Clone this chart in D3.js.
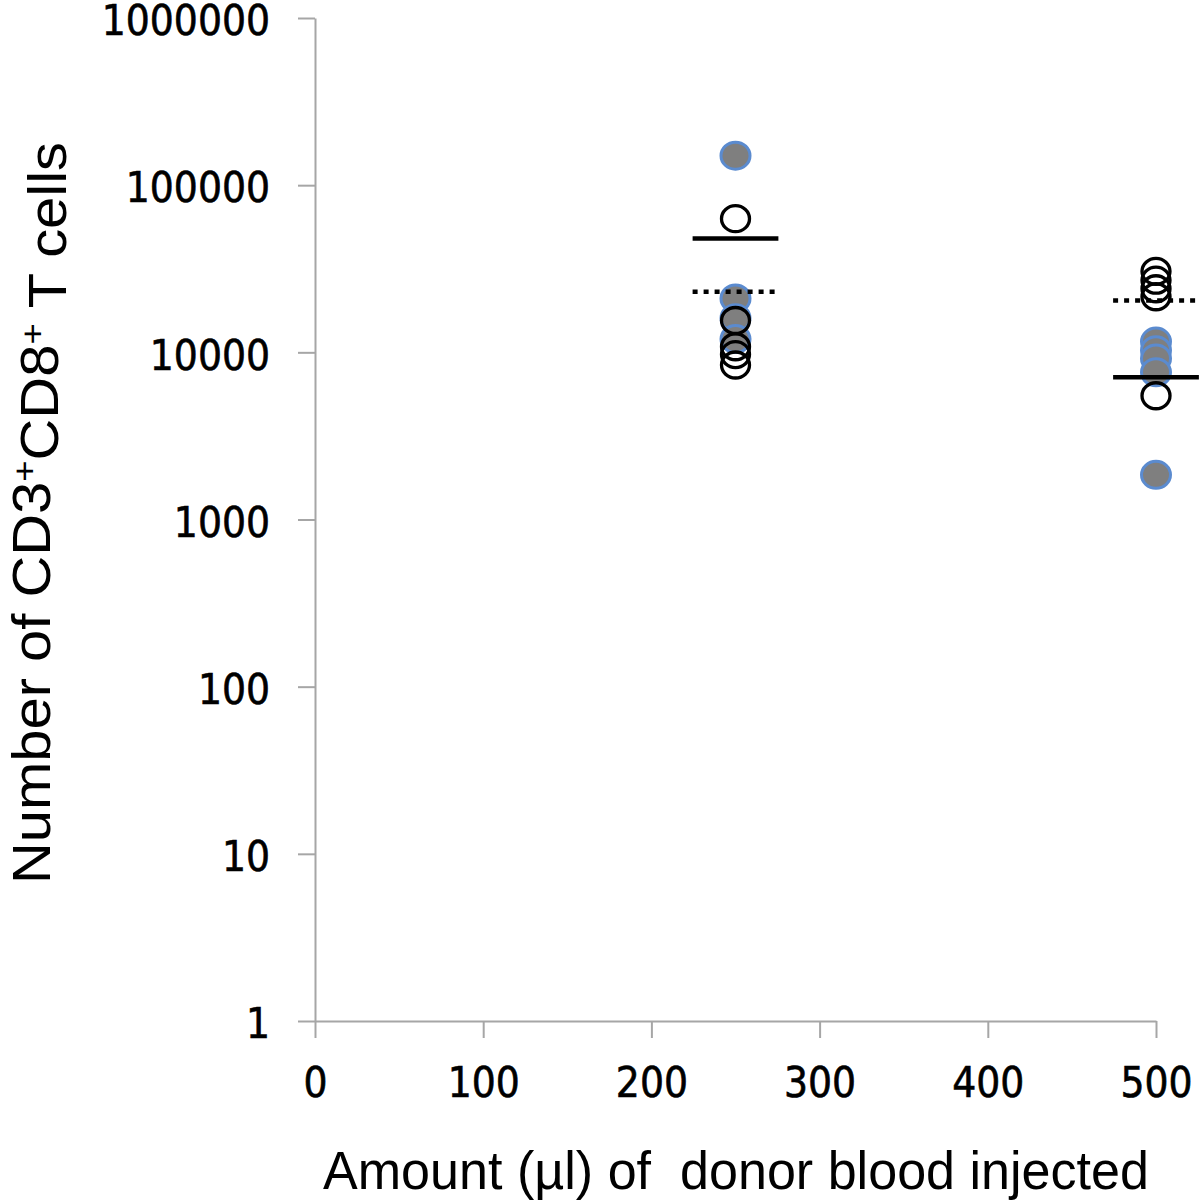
<!DOCTYPE html>
<html><head><meta charset="utf-8">
<script src="https://cdn.jsdelivr.net/npm/d3@7"></script>
<style>
html,body{margin:0;padding:0;background:#fff;}
svg{display:block;}
</style></head>
<body>
<svg id="chart" width="1200" height="1204"></svg>
<script>
// ---- data ----
const xTicks = [0, 100, 200, 300, 400, 500];
const yTicks = [1, 10, 100, 1000, 10000, 100000, 1000000];
const filledX = [250, 250, 250, 250, 500, 500, 500, 500, 500];
const filledY = [150000, 21000, 16000, 12000, 11600, 10300, 9200, 7600, 1850];
const openX = [250, 250, 250, 250, 250, 500, 500, 500, 500, 500];
const openY = [63000, 15500, 10800, 9700, 8400, 30500, 27000, 24000, 21500, 5500];
const meanX = [250, 500];
const solidMean = [48000, 7100];
const dottedMean = [23000, 20400];
const xTitle = "Amount (µl) of  donor blood injected";

// ---- layout ----
const svg = d3.select("#chart");
const x = d3.scaleLinear().domain([0, 500]).range([315, 1156]);
const y = d3.scaleLog().domain([1, 1000000]).range([1021, 18]);
const axisColor = "#a6a6a6";
const tickFont = "'DejaVu Sans Condensed', 'DejaVu Sans', sans-serif";

// y axis
const yAxis = svg.append("g").attr("transform", `translate(${x(0)},0)`)
  .call(d3.axisLeft(y).tickValues(yTicks).tickFormat(d3.format("d")).tickSize(17).tickSizeOuter(0).tickPadding(28));
// x axis
const xAxis = svg.append("g").attr("transform", `translate(0,${y(1)})`)
  .call(d3.axisBottom(x).tickValues(xTicks).tickSize(17).tickSizeOuter(0).tickPadding(29));

[yAxis, xAxis].forEach(g => {
  g.selectAll(".domain").attr("stroke", axisColor).attr("stroke-width", 2);
  g.selectAll(".tick line").attr("stroke", axisColor).attr("stroke-width", 2);
  g.selectAll(".tick text").attr("fill", "#000")
    .attr("stroke", "#000").attr("stroke-width", 0.6)
    .style("font-family", tickFont).style("font-stretch", "condensed")
    .style("font-size", "42px");
});
yAxis.selectAll(".tick text").attr("dy", "0.4em");
xAxis.selectAll(".tick text").attr("dy", "0.72em");

// points
const filled = filledX.map((v, i) => ({x: v, y: filledY[i]}));
const open = openX.map((v, i) => ({x: v, y: openY[i]}));

svg.append("g").selectAll("ellipse").data(filled).join("ellipse")
  .attr("cx", d => x(d.x)).attr("cy", d => y(d.y))
  .attr("rx", 14.5).attr("ry", 13.5)
  .attr("fill", "#7f7f7f").attr("stroke", "#5b8bcf").attr("stroke-width", 3);

// mean lines
const half = 25.5;
svg.append("g").selectAll("line").data(meanX.map((v, i) => ({x: v, y: solidMean[i]}))).join("line")
  .attr("x1", d => x(d.x - half)).attr("x2", d => x(d.x + half))
  .attr("y1", d => y(d.y)).attr("y2", d => y(d.y))
  .attr("stroke", "#000").attr("stroke-width", 4.5);
svg.append("g").selectAll("line").data(meanX.map((v, i) => ({x: v, y: dottedMean[i]}))).join("line")
  .attr("x1", d => x(d.x - half)).attr("x2", d => x(d.x + half))
  .attr("y1", d => y(d.y)).attr("y2", d => y(d.y))
  .attr("stroke", "#000").attr("stroke-width", 4.5).attr("stroke-dasharray", "5,6");

svg.append("g").selectAll("ellipse").data(open).join("ellipse")
  .attr("cx", d => x(d.x)).attr("cy", d => y(d.y))
  .attr("rx", 14).attr("ry", 13)
  .attr("fill", "none").attr("stroke", "#000").attr("stroke-width", 3.3);

// x title
svg.append("text")
  .attr("x", 736).attr("y", 1189)
  .attr("text-anchor", "middle")
  .attr("textLength", 826).attr("lengthAdjust", "spacingAndGlyphs")
  .style("white-space", "pre")
  .style("font-family", "'Liberation Sans', Arial, sans-serif")
  .style("font-size", "54px")
  .text(xTitle);

// y title
const yt = svg.append("text")
  .attr("transform", "translate(50,513) rotate(-90)")
  .attr("text-anchor", "middle")
  .attr("textLength", 742).attr("lengthAdjust", "spacingAndGlyphs")
  .style("font-family", "'Liberation Sans', Arial, sans-serif")
  .style("font-size", "54px");
yt.append("tspan").text("Number of CD3");
yt.append("tspan").attr("dy", "-0.4em").style("font-size", "34px").text("+");
yt.append("tspan").attr("dy", "0.4em").text("CD8");
yt.append("tspan").attr("dy", "-0.4em").style("font-size", "34px").text("+");
yt.append("tspan").attr("dy", "0.4em").text(" T cells");
</script>
</body></html>
